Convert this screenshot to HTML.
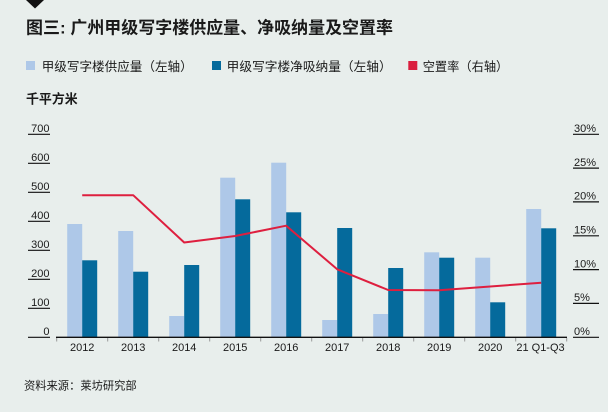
<!DOCTYPE html>
<html><head><meta charset="utf-8"><style>
html,body{margin:0;padding:0;background:#e8eeec;}
svg{display:block;}
text{font-family:"Liberation Sans","Noto Sans CJK SC",sans-serif;fill:#1a1a1a;}
</style></head><body>
<svg width="608" height="412" viewBox="0 0 608 412" xmlns="http://www.w3.org/2000/svg">
<rect width="608" height="412" fill="#e8eeec"/>
<polygon points="26,0 44,0 35,8.5" fill="#111"/>
<text x="26" y="33.5" font-size="17" font-weight="bold" textLength="367" lengthAdjust="spacingAndGlyphs">图三: 广州甲级写字楼供应量、净吸纳量及空置率</text>
<rect x="26" y="61" width="9" height="9" fill="#aec8e8"/>
<text x="41.7" y="70.8" font-size="12.6" textLength="151" lengthAdjust="spacingAndGlyphs">甲级写字楼供应量（左轴）</text>
<rect x="212" y="61" width="9" height="9" fill="#056a9c"/>
<text x="226.7" y="70.8" font-size="12.6" textLength="165" lengthAdjust="spacingAndGlyphs">甲级写字楼净吸纳量（左轴）</text>
<rect x="408.3" y="61" width="9" height="9" fill="#da1e3e"/>
<text x="422.7" y="70.8" font-size="12.6" textLength="85.6" lengthAdjust="spacingAndGlyphs">空置率（右轴）</text>
<text x="26" y="103.4" font-size="13" font-weight="bold" textLength="51.7" lengthAdjust="spacingAndGlyphs">千平方米</text>
<g stroke="#111" stroke-width="1.2">
<line x1="28" y1="134.3" x2="50" y2="134.3"/>
<line x1="28" y1="163.3" x2="50" y2="163.3"/>
<line x1="28" y1="192.3" x2="50" y2="192.3"/>
<line x1="28" y1="221.3" x2="50" y2="221.3"/>
<line x1="28" y1="250.3" x2="50" y2="250.3"/>
<line x1="28" y1="279.3" x2="50" y2="279.3"/>
<line x1="28" y1="308.3" x2="50" y2="308.3"/>
<line x1="28" y1="337.3" x2="50" y2="337.3"/>
<line x1="573" y1="134.3" x2="599" y2="134.3"/>
<line x1="573" y1="168.1" x2="599" y2="168.1"/>
<line x1="573" y1="201.9" x2="599" y2="201.9"/>
<line x1="573" y1="235.8" x2="599" y2="235.8"/>
<line x1="573" y1="269.6" x2="599" y2="269.6"/>
<line x1="573" y1="303.4" x2="599" y2="303.4"/>
<line x1="573" y1="337.3" x2="599" y2="337.3"/>
</g>
<g font-size="11" text-anchor="end">
<text x="49.5" y="132">700</text>
<text x="49.5" y="161">600</text>
<text x="49.5" y="190">500</text>
<text x="49.5" y="219">400</text>
<text x="49.5" y="248">300</text>
<text x="49.5" y="277">200</text>
<text x="49.5" y="306">100</text>
<text x="49.5" y="335">0</text>
</g>
<g font-size="11">
<text x="574" y="132">30%</text>
<text x="574" y="165.8">25%</text>
<text x="574" y="199.6">20%</text>
<text x="574" y="233.5">15%</text>
<text x="574" y="267.3">10%</text>
<text x="574" y="301.1">5%</text>
<text x="574" y="335">0%</text>
</g>
<g fill="#aec8e8">
<rect x="67.2" y="224" width="15" height="113"/>
<rect x="118.2" y="231" width="15" height="106"/>
<rect x="169.2" y="316" width="15" height="21"/>
<rect x="220.2" y="177.7" width="15" height="159.3"/>
<rect x="271.2" y="162.7" width="15" height="174.3"/>
<rect x="322.2" y="320" width="15" height="17"/>
<rect x="373.2" y="314" width="15" height="23"/>
<rect x="424.2" y="252.3" width="15" height="84.7"/>
<rect x="475.2" y="257.7" width="15" height="79.3"/>
<rect x="526.2" y="209" width="15" height="128"/>
</g>
<g fill="#056a9c">
<rect x="82.2" y="260.3" width="15" height="76.7"/>
<rect x="133.2" y="271.7" width="15" height="65.3"/>
<rect x="184.2" y="265" width="15" height="72"/>
<rect x="235.2" y="199.3" width="15" height="137.7"/>
<rect x="286.2" y="212.3" width="15" height="124.7"/>
<rect x="337.2" y="228" width="15" height="109"/>
<rect x="388.2" y="268" width="15" height="69"/>
<rect x="439.2" y="257.7" width="15" height="79.3"/>
<rect x="490.2" y="302.3" width="15" height="34.7"/>
<rect x="541.2" y="228.3" width="15" height="108.7"/>
</g>
<line x1="56" y1="337.3" x2="567" y2="337.3" stroke="#111" stroke-width="1.3"/>
<g stroke="#999" stroke-width="1">
<line x1="56.7" y1="338" x2="56.7" y2="341.5"/>
<line x1="107.7" y1="338" x2="107.7" y2="341.5"/>
<line x1="158.7" y1="338" x2="158.7" y2="341.5"/>
<line x1="209.7" y1="338" x2="209.7" y2="341.5"/>
<line x1="260.7" y1="338" x2="260.7" y2="341.5"/>
<line x1="311.7" y1="338" x2="311.7" y2="341.5"/>
<line x1="362.7" y1="338" x2="362.7" y2="341.5"/>
<line x1="413.7" y1="338" x2="413.7" y2="341.5"/>
<line x1="464.7" y1="338" x2="464.7" y2="341.5"/>
<line x1="515.7" y1="338" x2="515.7" y2="341.5"/>
<line x1="566.7" y1="338" x2="566.7" y2="341.5"/>
</g>
<polyline fill="none" stroke="#de1f3f" stroke-width="2" stroke-linejoin="round" points="82.2,195.2 133.2,195.2 184.2,242.5 235.2,236 286.2,225.7 337.2,269.3 388.2,290 439.2,290.3 490.2,286.5 541.2,282.7"/>
<g font-size="11" text-anchor="middle">
<text x="82.2" y="351">2012</text>
<text x="133.2" y="351">2013</text>
<text x="184.2" y="351">2014</text>
<text x="235.2" y="351">2015</text>
<text x="286.2" y="351">2016</text>
<text x="337.2" y="351">2017</text>
<text x="388.2" y="351">2018</text>
<text x="439.2" y="351">2019</text>
<text x="490.2" y="351">2020</text>
<text x="540.5" y="351">21 Q1-Q3</text>
</g>
<text x="24" y="389.3" font-size="11.3" textLength="112.7" lengthAdjust="spacingAndGlyphs">资料来源：莱坊研究部</text>
</svg>
</body></html>
